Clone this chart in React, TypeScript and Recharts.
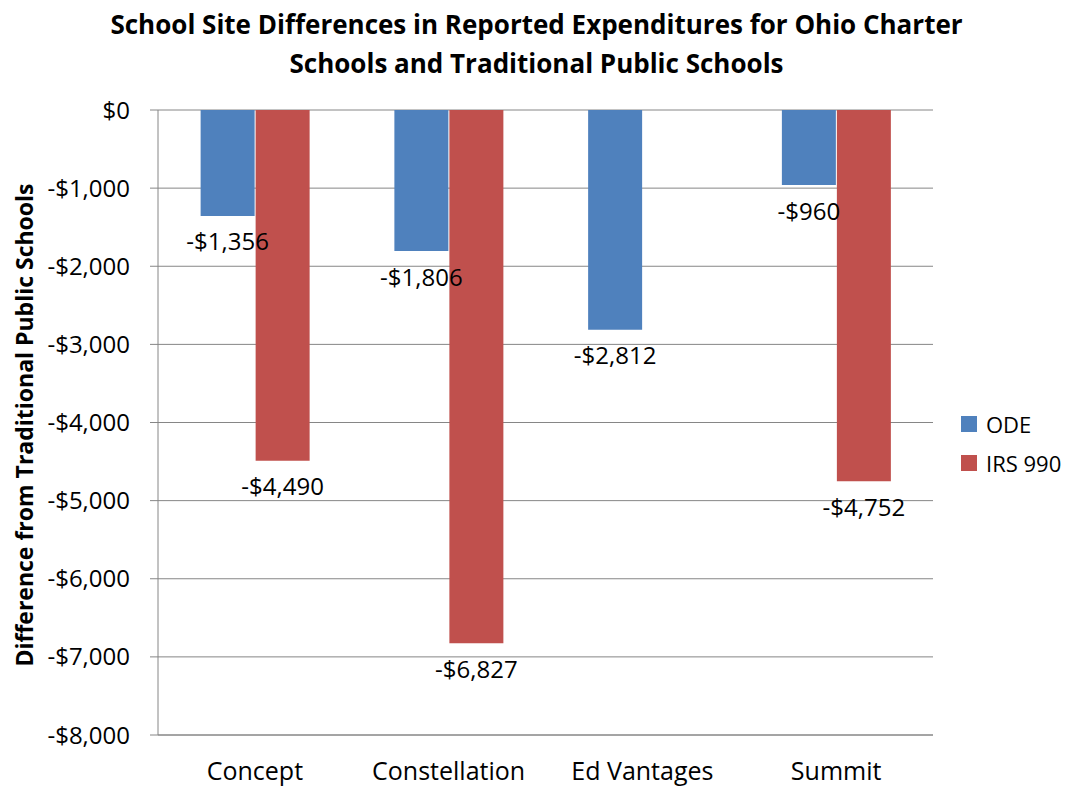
import { BarChart, Bar, XAxis, YAxis, CartesianGrid, LabelList } from 'recharts'

const schools = ['Concept', 'Constellation', 'Ed Vantages', 'Summit']
const odeValues = [-1356, -1806, -2812, -960]
const irsValues: Array<number | null> = [-4490, -6827, null, -4752]
const yTicks = [0, -1000, -2000, -3000, -4000, -5000, -6000, -7000, -8000]

const data = schools.map((name, i) => ({ name, ode: odeValues[i], irs: irsValues[i] }))

const FONT = '"Open Sans", sans-serif'
const BLUE = '#4F81BD'
const RED = '#C0504D'
const GRID = '#868686'

function money(v: number) {
  if (v === 0) return '$0'
  const s = Math.abs(v).toLocaleString('en-US')
  return (v < 0 ? '-$' : '$') + s
}

function BelowLabel(props: any) {
  const { x, y, width, height, value } = props
  if (value == null) return null
  const bottom = Math.max(y, y + height)
  return (
    <text
      x={x + width / 2}
      y={bottom + 25}
      textAnchor="middle"
      dominantBaseline="central"
      fontSize={24}
      fontFamily={FONT}
      fill="#000"
    >
      {money(value)}
    </text>
  )
}

// legend drawn outside the chart so recharts doesn't shrink the plot for it
function LegendBox() {
  const items = [
    { label: 'ODE', color: BLUE },
    { label: 'IRS 990', color: RED },
  ]
  return (
    <div style={{ position: 'absolute', left: 961, top: 404, fontFamily: FONT, fontSize: 22 }}>
      {items.map(it => (
        <div key={it.label} style={{ display: 'flex', alignItems: 'center', height: 39 }}>
          <span style={{ width: 16, height: 16, background: it.color, marginRight: 9 }} />
          <span>{it.label}</span>
        </div>
      ))}
    </div>
  )
}

export default function App() {
  return (
    <div style={{ position: 'absolute', left: 0, top: 0, width: 1073, height: 788, background: '#fff' }}>
      <div
        style={{
          position: 'absolute',
          left: 0,
          top: 5,
          width: 1073,
          textAlign: 'center',
          fontFamily: FONT,
          fontWeight: 700,
          fontSize: 26,
          lineHeight: '39px',
          color: '#000',
        }}
      >
        School Site Differences in Reported Expenditures for Ohio Charter
        <br />
        Schools and Traditional Public Schools
      </div>
      <div
        style={{
          position: 'absolute',
          left: 24,
          top: 425,
          transform: 'translate(-50%, -50%) rotate(-90deg)',
          whiteSpace: 'nowrap',
          fontFamily: FONT,
          fontWeight: 700,
          fontSize: 23,
          color: '#000',
        }}
      >
        Difference from Traditional Public Schools
      </div>
      <BarChart
        width={1073}
        height={788}
        data={data}
        margin={{ top: 110, right: 140, bottom: 0, left: 0 }}
        barCategoryGap="22%"
        barGap={1}
      >
        <CartesianGrid vertical={false} stroke={GRID} />
        <XAxis
          dataKey="name"
          height={53}
          tickLine={false}
          axisLine={{ stroke: GRID }}
          tickSize={0}
          tickMargin={27}
          tick={{ fontSize: 25, fontFamily: FONT, fill: '#000' }}
          interval={0}
        />
        <YAxis
          width={158}
          domain={[-8000, 0]}
          ticks={yTicks}
          tickFormatter={money}
          tickSize={8}
          tickMargin={20}
          tickLine={{ stroke: GRID }}
          axisLine={{ stroke: GRID }}
          tick={{ fontSize: 24, fontFamily: FONT, fill: '#000' }}
          interval={0}
        />
        <Bar dataKey="ode" name="ODE" fill={BLUE} isAnimationActive={false}>
          <LabelList dataKey="ode" content={<BelowLabel />} />
        </Bar>
        <Bar dataKey="irs" name="IRS 990" fill={RED} isAnimationActive={false}>
          <LabelList dataKey="irs" content={<BelowLabel />} />
        </Bar>
      </BarChart>
      <LegendBox />
    </div>
  )
}
